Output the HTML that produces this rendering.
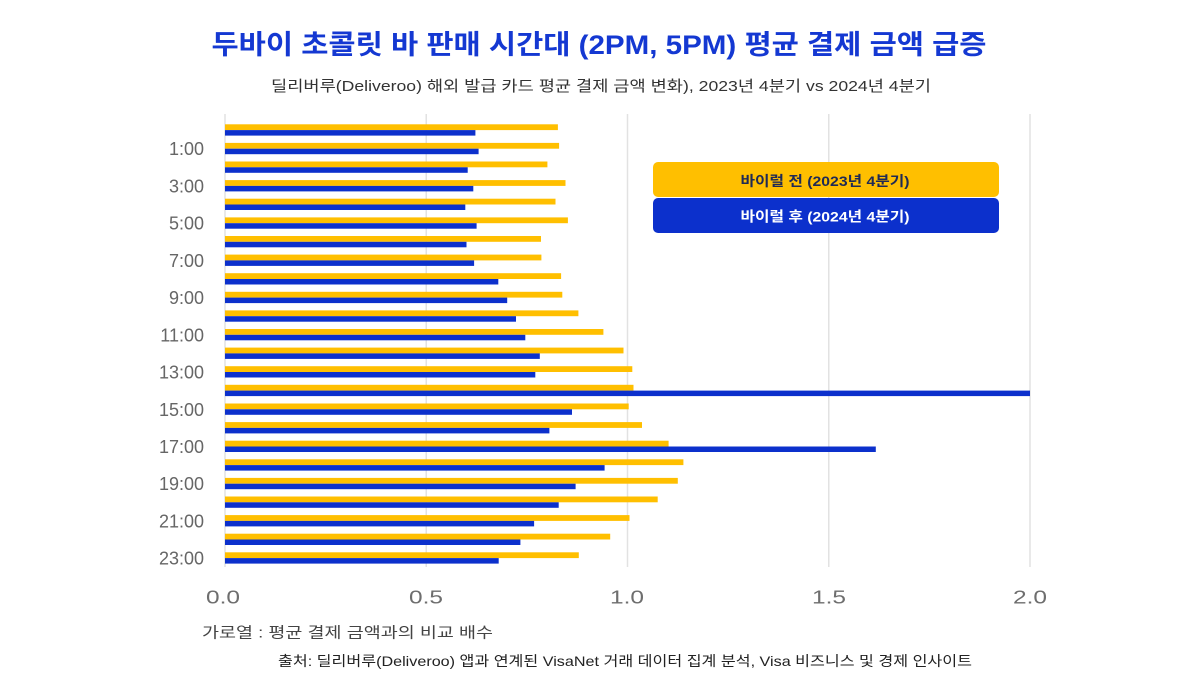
<!DOCTYPE html>
<html>
<head>
<meta charset="utf-8">
<style>
  html, body { margin: 0; padding: 0; background: #ffffff; }
  svg { display: block; }
  text { font-family: "Liberation Sans", "Noto Sans CJK KR", sans-serif; }
</style>
</head>
<body>
<svg width="1200" height="675" viewBox="0 0 1200 675" xmlns="http://www.w3.org/2000/svg">
  <rect x="0" y="0" width="1200" height="675" fill="#ffffff"/>

  <!-- Title -->
  <text x="599" y="54" text-anchor="middle" font-size="27" font-weight="bold" fill="#1438d2" textLength="775" lengthAdjust="spacingAndGlyphs">두바이 초콜릿 바 판매 시간대 (2PM, 5PM) 평균 결제 금액 급증</text>
  <text x="601" y="91" text-anchor="middle" font-size="15" fill="#333333" textLength="660" lengthAdjust="spacingAndGlyphs">딜리버루(Deliveroo) 해외 발급 카드 평균 결제 금액 변화), 2023년 4분기 vs 2024년 4분기</text>

  <!-- Gridlines -->
  <g stroke="#e2e2e2" stroke-width="1.5">
    <line x1="225" y1="114" x2="225" y2="567"/>
    <line x1="426.25" y1="114" x2="426.25" y2="567"/>
    <line x1="627.5" y1="114" x2="627.5" y2="567"/>
    <line x1="828.75" y1="114" x2="828.75" y2="567"/>
    <line x1="1030" y1="114" x2="1030" y2="567"/>
  </g>

  <!-- Bars: yellow (2023) -->
  <g fill="#ffbf00">
    <rect x="225" y="124.3" width="332.9" height="5.8"/>
    <rect x="225" y="142.9" width="334.1" height="5.8"/>
    <rect x="225" y="161.5" width="322.4" height="5.8"/>
    <rect x="225" y="180.1" width="340.5" height="5.8"/>
    <rect x="225" y="198.7" width="330.5" height="5.8"/>
    <rect x="225" y="217.4" width="342.9" height="5.8"/>
    <rect x="225" y="236.0" width="316.0" height="5.8"/>
    <rect x="225" y="254.6" width="316.4" height="5.8"/>
    <rect x="225" y="273.2" width="336.1" height="5.8"/>
    <rect x="225" y="291.8" width="337.3" height="5.8"/>
    <rect x="225" y="310.4" width="353.4" height="5.8"/>
    <rect x="225" y="329.0" width="378.4" height="5.8"/>
    <rect x="225" y="347.6" width="398.5" height="5.8"/>
    <rect x="225" y="366.2" width="407.3" height="5.8"/>
    <rect x="225" y="384.8" width="408.5" height="5.8"/>
    <rect x="225" y="403.5" width="403.7" height="5.8"/>
    <rect x="225" y="422.1" width="417.0" height="5.8"/>
    <rect x="225" y="440.7" width="443.6" height="5.8"/>
    <rect x="225" y="459.3" width="458.4" height="5.8"/>
    <rect x="225" y="477.9" width="452.8" height="5.8"/>
    <rect x="225" y="496.5" width="432.7" height="5.8"/>
    <rect x="225" y="515.1" width="404.5" height="5.8"/>
    <rect x="225" y="533.7" width="385.2" height="5.8"/>
    <rect x="225" y="552.3" width="353.8" height="5.8"/>
  </g>

  <!-- Bars: blue (2024) -->
  <g fill="#0c30cc">
    <rect x="225" y="130.1" width="250.4" height="5.5"/>
    <rect x="225" y="148.7" width="253.6" height="5.5"/>
    <rect x="225" y="167.3" width="242.7" height="5.5"/>
    <rect x="225" y="185.9" width="248.3" height="5.5"/>
    <rect x="225" y="204.5" width="240.3" height="5.5"/>
    <rect x="225" y="223.2" width="251.6" height="5.5"/>
    <rect x="225" y="241.8" width="241.5" height="5.5"/>
    <rect x="225" y="260.4" width="249.1" height="5.5"/>
    <rect x="225" y="279.0" width="273.3" height="5.5"/>
    <rect x="225" y="297.6" width="282.2" height="5.5"/>
    <rect x="225" y="316.2" width="291.0" height="5.5"/>
    <rect x="225" y="334.8" width="300.3" height="5.5"/>
    <rect x="225" y="353.4" width="314.8" height="5.5"/>
    <rect x="225" y="372.0" width="310.3" height="5.5"/>
    <rect x="225" y="390.6" width="805.0" height="5.5"/>
    <rect x="225" y="409.3" width="347.0" height="5.5"/>
    <rect x="225" y="427.9" width="324.4" height="5.5"/>
    <rect x="225" y="446.5" width="650.8" height="5.5"/>
    <rect x="225" y="465.1" width="379.6" height="5.5"/>
    <rect x="225" y="483.7" width="350.6" height="5.5"/>
    <rect x="225" y="502.3" width="333.7" height="5.5"/>
    <rect x="225" y="520.9" width="309.1" height="5.5"/>
    <rect x="225" y="539.5" width="295.4" height="5.5"/>
    <rect x="225" y="558.1" width="273.7" height="5.5"/>
  </g>

  <!-- Y axis labels -->
  <g font-size="18" fill="#666666" text-anchor="end">
    <text x="204" y="155.2">1:00</text>
    <text x="204" y="192.4">3:00</text>
    <text x="204" y="229.7">5:00</text>
    <text x="204" y="266.9">7:00</text>
    <text x="204" y="304.1">9:00</text>
    <text x="204" y="341.3">11:00</text>
    <text x="204" y="378.5">13:00</text>
    <text x="204" y="415.8">15:00</text>
    <text x="204" y="453.0">17:00</text>
    <text x="204" y="490.2">19:00</text>
    <text x="204" y="527.4">21:00</text>
    <text x="204" y="564.6">23:00</text>
  </g>

  <!-- X axis tick labels -->
  <g font-size="18" fill="#6e6e6e" text-anchor="middle">
    <text x="223" y="603.5" textLength="34" lengthAdjust="spacingAndGlyphs">0.0</text>
    <text x="426" y="603.5" textLength="34" lengthAdjust="spacingAndGlyphs">0.5</text>
    <text x="627" y="603.5" textLength="34" lengthAdjust="spacingAndGlyphs">1.0</text>
    <text x="829" y="603.5" textLength="34" lengthAdjust="spacingAndGlyphs">1.5</text>
    <text x="1030" y="603.5" textLength="34" lengthAdjust="spacingAndGlyphs">2.0</text>
  </g>

  <!-- Legend -->
  <rect x="653" y="162" width="346" height="35" rx="5" ry="5" fill="#ffbf00"/>
  <rect x="653" y="198" width="346" height="35" rx="5" ry="5" fill="#0c30cc"/>
  <text x="825" y="186" text-anchor="middle" font-size="14" font-weight="bold" fill="#1f2a55" textLength="169" lengthAdjust="spacingAndGlyphs">바이럴 전 (2023년 4분기)</text>
  <text x="825" y="221.5" text-anchor="middle" font-size="14" font-weight="bold" fill="#ffffff" textLength="169" lengthAdjust="spacingAndGlyphs">바이럴 후 (2024년 4분기)</text>

  <!-- Footer texts -->
  <text x="202" y="637.5" font-size="15" fill="#444444" textLength="291" lengthAdjust="spacingAndGlyphs">가로열 : 평균 결제 금액과의 비교 배수</text>
  <text x="278" y="666" font-size="14" fill="#222222" textLength="694" lengthAdjust="spacingAndGlyphs">출처: 딜리버루(Deliveroo) 앱과 연계된 VisaNet 거래 데이터 집계 분석, Visa 비즈니스 및 경제 인사이트</text>
</svg>
</body>
</html>
